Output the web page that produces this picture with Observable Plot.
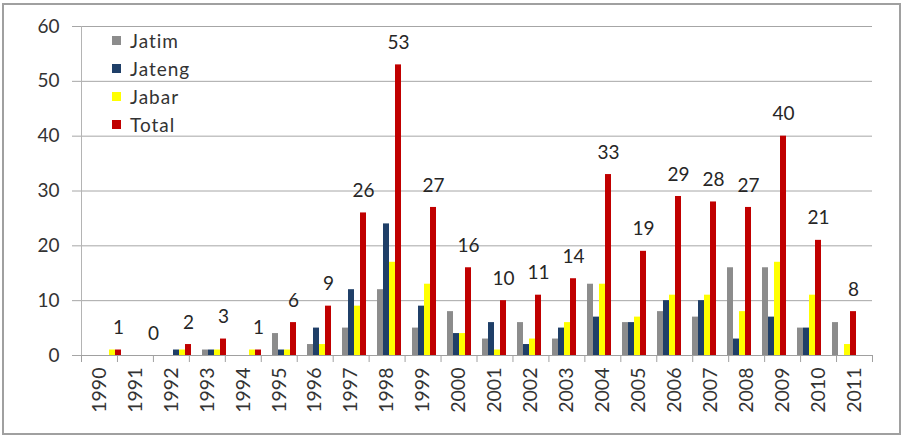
<!DOCTYPE html>
<html>
<head>
<meta charset="utf-8">
<script src="https://cdn.jsdelivr.net/npm/d3@7"></script>
<script src="https://cdn.jsdelivr.net/npm/@observablehq/plot@0.6"></script>
<style>
  body { margin: 0; background: #fff; }
  #wrap { position: relative; width: 902px; height: 436px; overflow: hidden; font-family: Lato, "Open Sans", sans-serif; }
  #frame { position: absolute; left: 2px; top: 3px; width: 899px; height: 432px; box-sizing: border-box; border: 2px solid #a0a0a0; }
  #wrap svg { position: absolute; left: 0; top: 0; }
  #legend { position: absolute; left: 112px; top: 26px; font-size: 19px; letter-spacing: 1px; color: #333; }
  #legend .row { height: 28px; display: flex; align-items: center; }
  #legend .sw { width: 9px; height: 9px; margin-right: 9px; }
</style>
</head>
<body>
<div id="wrap"><div id="frame"></div></div>
<script>
const years = ["1990","1991","1992","1993","1994","1995","1996","1997","1998","1999","2000","2001","2002","2003","2004","2005","2006","2007","2008","2009","2010","2011"];
const series = ["Jatim","Jateng","Jabar","Total"];
const jatim  = [0,0,0,1,0,4,2,5,12,5,8,3,6,3,13,6,8,7,16,16,5,6];
const jateng = [0,0,1,1,0,1,5,12,24,9,4,6,2,5,7,6,10,10,3,7,5,0];
const jabar  = [1,0,1,1,1,1,2,9,17,13,4,1,3,6,13,7,11,11,8,17,11,2];
const total  = [1,0,2,3,1,6,9,26,53,27,16,10,11,14,33,19,29,28,27,40,21,8];
const colors = ["#8c8c8c","#1f3f68","#ffff00","#c00000"];
const yTicks = [0,10,20,30,40,50,60];

const valuesBySeries = [jatim, jateng, jabar, total];
const data = years.flatMap((yr, i) => series.map((s, j) => ({year: yr, series: s, value: valuesBySeries[j][i]})));

const W = 902, H = 436;
const M = {marginLeft: 81, marginRight: 30, marginTop: 26, marginBottom: 81};
const font = "Lato, 'Open Sans', sans-serif";

const base = Plot.plot({
  width: W, height: H, ...M,
  style: {fontFamily: font, background: "transparent"},
  x: {domain: [0, years.length], axis: null},
  y: {domain: [0, 60], axis: null},
  marks: [
    Plot.gridY(yTicks, {stroke: "#a6a6a6", strokeOpacity: 1}),
    Plot.axisY(yTicks, {tickSize: 9, tickPadding: 13, fontSize: 19, stroke: "#a6a6a6", fill: "#333", label: null}),
    Plot.ruleX([0], {stroke: "#b4b4b4"}),
    Plot.ruleY([0], {stroke: "#a0a0a0"}),
    Plot.axisX(d3.range(years.length + 1), {tickSize: 7, tickFormat: () => "", stroke: "#a0a0a0", label: null}),
    Plot.axisX(years.map((_, i) => i + 0.5), {tickSize: 0, tickRotate: -90, tickPadding: 12, tickFormat: d => years[d - 0.5], fontSize: 19.5, fill: "#333", label: null})
  ]
});

const bars = Plot.plot({
  width: W, height: H, ...M,
  style: {fontFamily: font, background: "transparent"},
  fx: {domain: years, paddingInner: 0.22, paddingOuter: 0.11, axis: null, label: null},
  x: {domain: series, padding: 0, axis: null},
  y: {domain: [0, 60], axis: null},
  color: {domain: series, range: colors},
  marks: [
    Plot.barY(data, {fx: "year", x: "series", y: "value", fill: "series"}),
    Plot.text(data.filter(d => d.series === "Total"), {fx: "year", x: "series", y: "value", text: d => String(d.value), dy: -22, fontSize: 19, fill: "#262626"})
  ]
});

const wrap = document.getElementById("wrap");
wrap.appendChild(base);
wrap.appendChild(bars);

const legend = document.createElement("div");
legend.id = "legend";
series.forEach((s, i) => {
  const row = document.createElement("div");
  row.className = "row";
  const sw = document.createElement("span");
  sw.className = "sw";
  sw.style.background = colors[i];
  const t = document.createElement("span");
  t.textContent = s;
  row.appendChild(sw); row.appendChild(t);
  legend.appendChild(row);
});
wrap.appendChild(legend);
</script>
</body>
</html>
